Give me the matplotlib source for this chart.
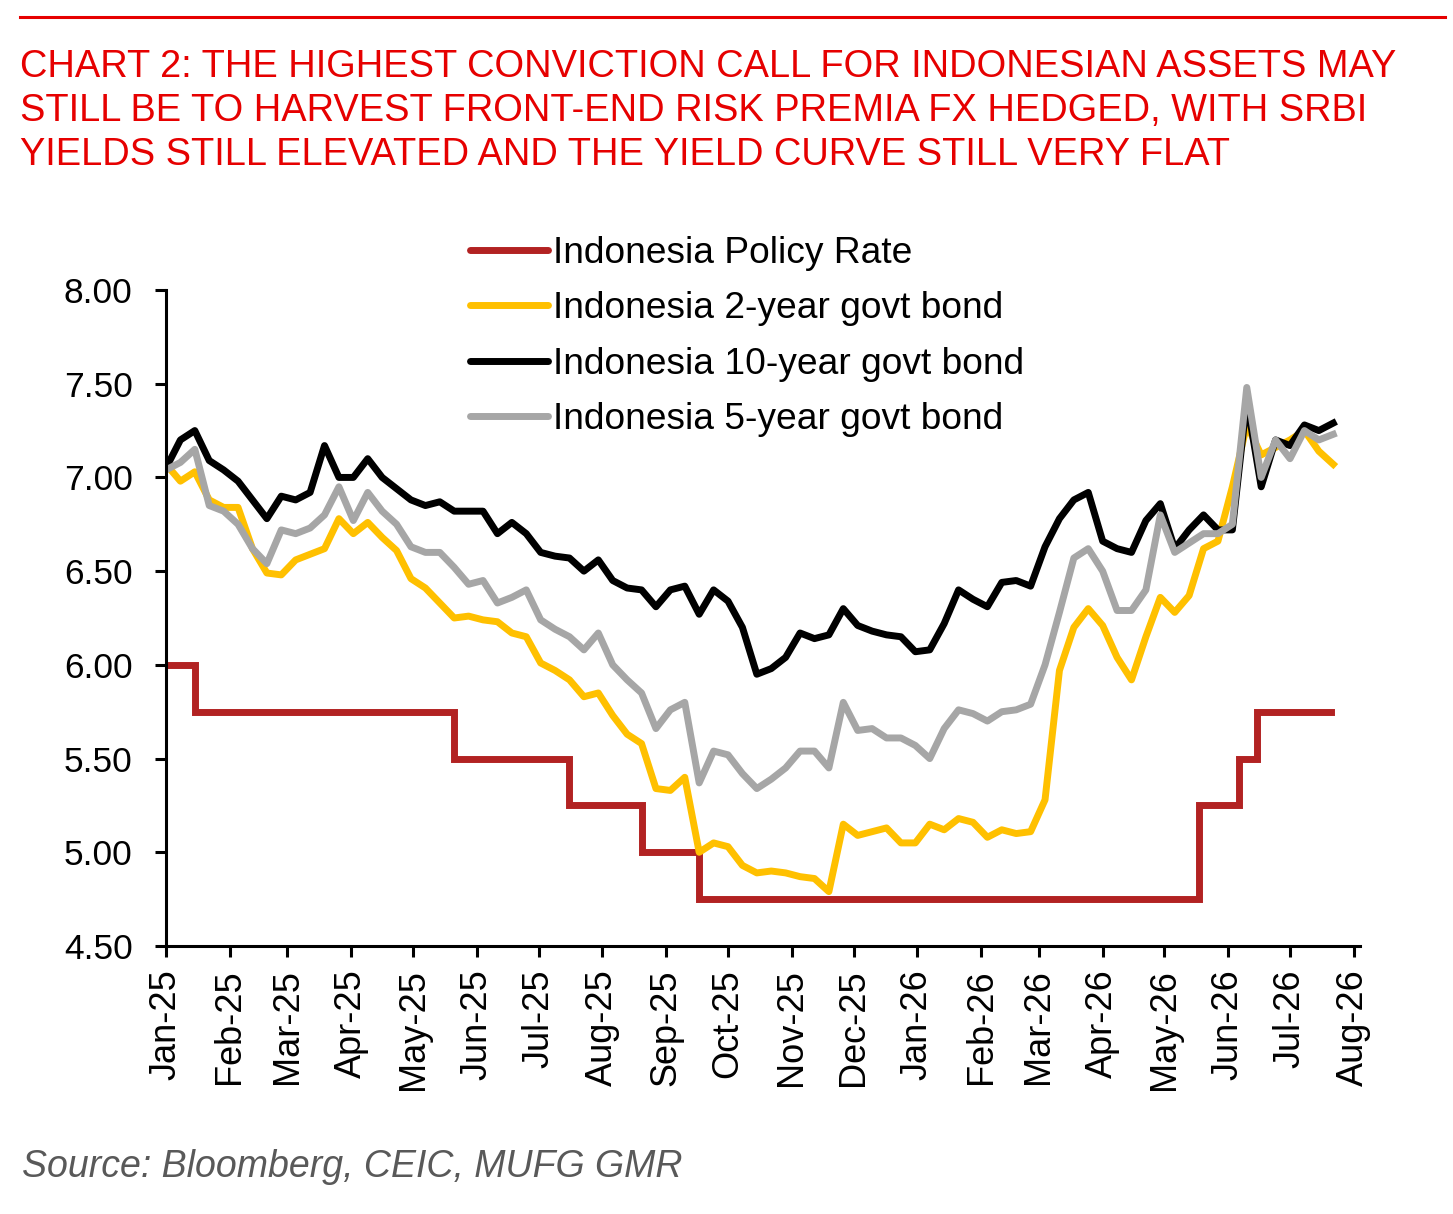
import matplotlib
matplotlib.use("Agg")
import matplotlib.pyplot as plt
import matplotlib.dates as mdates
from matplotlib.lines import Line2D
import pandas as pd

plt.rcParams['font.family'] = ['Liberation Sans', 'DejaVu Sans']

dates = pd.date_range('2025-01-01', periods=82, freq='7D')

bond_10y = [7.05, 7.20, 7.25, 7.09, 7.04, 6.98, 6.88, 6.78, 6.90, 6.88,
            6.92, 7.17, 7.00, 7.00, 7.10, 7.00, 6.94, 6.88, 6.85, 6.87,
            6.82, 6.82, 6.82, 6.70, 6.76, 6.70, 6.60, 6.58, 6.57, 6.50,
            6.56, 6.45, 6.41, 6.40, 6.31, 6.40, 6.42, 6.27, 6.40, 6.34,
            6.20, 5.95, 5.98, 6.04, 6.17, 6.14, 6.16, 6.30, 6.21, 6.18,
            6.16, 6.15, 6.07, 6.08, 6.22, 6.40, 6.35, 6.31, 6.44, 6.45,
            6.42, 6.63, 6.78, 6.88, 6.92, 6.66, 6.62, 6.60, 6.77, 6.86,
            6.62, 6.72, 6.80, 6.72, 6.72, 7.41, 6.95, 7.20, 7.17, 7.28,
            7.25, 7.29]

bond_5y = [7.04, 7.08, 7.15, 6.85, 6.82, 6.75, 6.62, 6.54, 6.72, 6.70,
           6.73, 6.80, 6.95, 6.77, 6.92, 6.82, 6.75, 6.63, 6.60, 6.60,
           6.52, 6.43, 6.45, 6.33, 6.36, 6.40, 6.24, 6.19, 6.15, 6.08,
           6.17, 6.00, 5.92, 5.85, 5.66, 5.76, 5.80, 5.37, 5.54, 5.52,
           5.42, 5.34, 5.39, 5.45, 5.54, 5.54, 5.45, 5.80, 5.65, 5.66,
           5.61, 5.61, 5.57, 5.50, 5.66, 5.76, 5.74, 5.70, 5.75, 5.76,
           5.79, 6.00, 6.28, 6.57, 6.62, 6.50, 6.29, 6.29, 6.40, 6.80,
           6.60, 6.65, 6.70, 6.70, 6.75, 7.48, 7.00, 7.20, 7.10, 7.25,
           7.20, 7.23]

bond_2y = [7.07, 6.98, 7.03, 6.88, 6.84, 6.84, 6.62, 6.49, 6.48, 6.56,
           6.59, 6.62, 6.78, 6.70, 6.76, 6.68, 6.61, 6.46, 6.41, 6.33,
           6.25, 6.26, 6.24, 6.23, 6.17, 6.15, 6.01, 5.97, 5.92, 5.83,
           5.85, 5.73, 5.63, 5.58, 5.34, 5.33, 5.40, 5.00, 5.05, 5.03,
           4.93, 4.89, 4.90, 4.89, 4.87, 4.86, 4.79, 5.15, 5.09, 5.11,
           5.13, 5.05, 5.05, 5.15, 5.12, 5.18, 5.16, 5.08, 5.12, 5.10,
           5.11, 5.28, 5.97, 6.20, 6.30, 6.21, 6.04, 5.92, 6.15, 6.36,
           6.28, 6.37, 6.62, 6.66, 6.95, 7.28, 7.12, 7.16, 7.20, 7.25,
           7.14, 7.07]

# policy rate decisions
rate_dates = pd.to_datetime(['2025-01-01', '2025-01-15', '2025-05-21', '2025-07-16',
                             '2025-08-20', '2025-09-17', '2026-05-18', '2026-06-06',
                             '2026-06-15', '2026-07-21'])
policy_rate = [6.00, 5.75, 5.50, 5.25, 5.00, 4.75, 5.25, 5.50, 5.75, 5.75]

title_lines = ["CHART 2: THE HIGHEST CONVICTION CALL FOR INDONESIAN ASSETS MAY",
               "STILL BE TO HARVEST FRONT-END RISK PREMIA FX HEDGED, WITH SRBI",
               "YIELDS STILL ELEVATED AND THE YIELD CURVE STILL VERY FLAT"]

W, H = 1453, 1214
fig = plt.figure(figsize=(W / 100, H / 100), dpi=100)
ax = fig.add_axes([166 / W, 1 - 946 / H, (1360 - 166) / W, (946 - 290) / H])

red = '#E60000'
lw = 5
ax.plot(rate_dates, policy_rate, drawstyle='steps-post', color='#B22222', lw=lw,
        label='Indonesia Policy Rate', solid_joinstyle='miter')
ax.plot(dates, bond_2y, color='#FFC000', lw=lw, label='Indonesia 2-year govt bond')
ax.plot(dates, bond_10y, color='black', lw=lw, label='Indonesia 10-year govt bond')
ax.plot(dates, bond_5y, color='#A6A6A6', lw=lw, label='Indonesia 5-year govt bond')

ax.set_ylim(4.5, 8.0)
ax.set_yticks([4.5, 5.0, 5.5, 6.0, 6.5, 7.0, 7.5, 8.0])
ax.yaxis.set_major_formatter(matplotlib.ticker.FormatStrFormatter('%.2f'))
ax.set_xlim(pd.Timestamp('2025-01-01'), pd.Timestamp('2026-08-04'))
ax.xaxis.set_major_locator(mdates.MonthLocator())
ax.xaxis.set_major_formatter(mdates.DateFormatter('%b-%y'))

for s in ['top', 'right']:
    ax.spines[s].set_visible(False)
for s in ['left', 'bottom']:
    ax.spines[s].set_linewidth(2.2)
ax.tick_params(axis='both', direction='out', length=8, width=2.2)
ax.tick_params(axis='y', pad=16, labelsize=25.5)
ax.tick_params(axis='x', pad=9, labelrotation=90, labelsize=26)

leg = ax.legend(loc='upper left', bbox_to_anchor=(470 / W, 1 - 236 / H),
                bbox_transform=fig.transFigure, frameon=False, fontsize=26.7,
                handlelength=2.1, handletextpad=0.15, labelspacing=0.55,
                borderpad=0, borderaxespad=0)
for h in leg.get_lines():
    h.set_linewidth(5)
    h.set_solid_capstyle('round')

fig.add_artist(Line2D([20 / W, 1445 / W], [1 - 17 / H, 1 - 17 / H],
                      transform=fig.transFigure, color=red, lw=2.2))
for i, line in enumerate(title_lines):
    fig.text(20 / W, 1 - (77 + 44 * i) / H, line, color=red, fontsize=27.4,
             va='baseline', ha='left')

fig.text(22 / W, 1 - 1177 / H, "Source: Bloomberg, CEIC, MUFG GMR", color='#595959',
         fontsize=27, style='italic', va='baseline', ha='left')

fig.savefig('out.png', dpi=100)
